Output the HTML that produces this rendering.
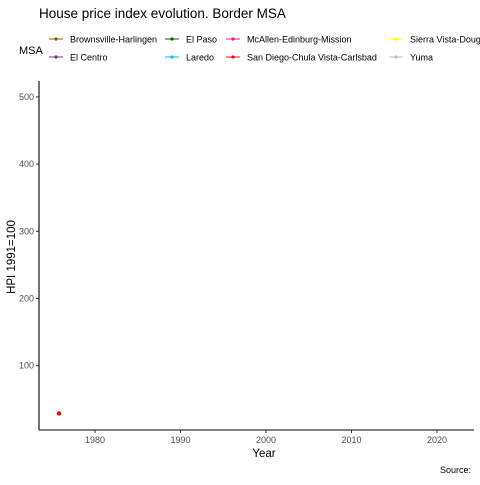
<!DOCTYPE html>
<html><head><meta charset="utf-8"><style>
body{margin:0;background:#fff;}
svg text{font-family:"Liberation Sans",sans-serif;}
</style></head><body>
<svg width="480" height="480" viewBox="0 0 480 480">
<rect width="480" height="480" fill="#fff"/>
<text x="39" y="18" font-size="13.5" fill="#000">House price index evolution. Border MSA</text>
<text x="19" y="54" font-size="11" fill="#000">MSA</text>
<g id="legend"></g>
<g id="axes"></g>
<g id="marks"></g>
<text x="264" y="457" font-size="11.5" text-anchor="middle" fill="#000">Year</text>
<text transform="translate(15,257) rotate(-90)" font-size="11.5" text-anchor="middle" fill="#000">HPI 1991=100</text>
<text x="471" y="473" font-size="9" text-anchor="end" fill="#000">Source:</text>
</svg>
<script>
const seriesNames=["Brownsville-Harlingen","El Centro","El Paso","Laredo","McAllen-Edinburg-Mission","San Diego-Chula Vista-Carlsbad","Sierra Vista-Douglas","Yuma"];
const seriesColors=["#8B5A00","#7030A0","#006400","#00BFFF","#FF1493","#FF0000","#FFFF00","#BEBEBE"];
const pointYears=[1975.8];
const pointValues=[29];
const pointSeries=[5];
const xTicks=[1980,1990,2000,2010,2020];
const yTicks=[100,200,300,400,500];

const NS="http://www.w3.org/2000/svg";
function mk(tag,attrs,parent){const e=document.createElementNS(NS,tag);for(const k in attrs)e.setAttribute(k,attrs[k]);parent.appendChild(e);return e;}
const xs=y=>95+(y-1980)*8.55;
const ys=v=>365.7-(v-100)*0.672;
const axes=document.getElementById('axes');
let a=mk('line',{x1:39,y1:81,x2:39,y2:430,stroke:'#000','stroke-width':1.1},axes);


a=mk('line',{x1:39,y1:430,x2:474,y2:430,stroke:'#000','stroke-width':1.1},axes);


xTicks.forEach(t=>{
  const x=xs(t);
  mk('line',{x1:x,y1:430,x2:x,y2:433,stroke:'#333'},axes);
  const tx=mk('text',{x:x,y:443,'font-size':9,'text-anchor':'middle',fill:'#4d4d4d'},axes);
  tx.textContent=t;
  
  
});
yTicks.forEach(t=>{
  const y=ys(t);
  mk('line',{x1:36,y1:y,x2:39,y2:y,stroke:'#333'},axes);
  const tx=mk('text',{x:34,y:y+3,'font-size':9,'text-anchor':'end',fill:'#4d4d4d'},axes);
  tx.textContent=t;
  
  
});
const marks=document.getElementById('marks');
pointYears.forEach((yr,i)=>{
  const c=mk('circle',{cx:xs(yr),cy:ys(pointValues[i]),r:2.2,fill:seriesColors[pointSeries[i]]},marks);
  
  
});
const legend=document.getElementById('legend');
const colX=[49,165,226,389];
seriesNames.forEach((n,i)=>{
  const col=Math.floor(i/2), row=i%2;
  const x=colX[col], y=39+row*18;
  const g=mk('g',{},legend);
  
  
  mk('line',{x1:x,y1:y,x2:x+14,y2:y,stroke:seriesColors[i],'stroke-width':1},g);
  mk('circle',{cx:x+7,cy:y,r:1.6,fill:seriesColors[i]},g);
  const t=mk('text',{x:x+21,y:y+3.5,'font-size':9,fill:'#000'},g);
  t.textContent=n;
});
</script>
</body></html>
